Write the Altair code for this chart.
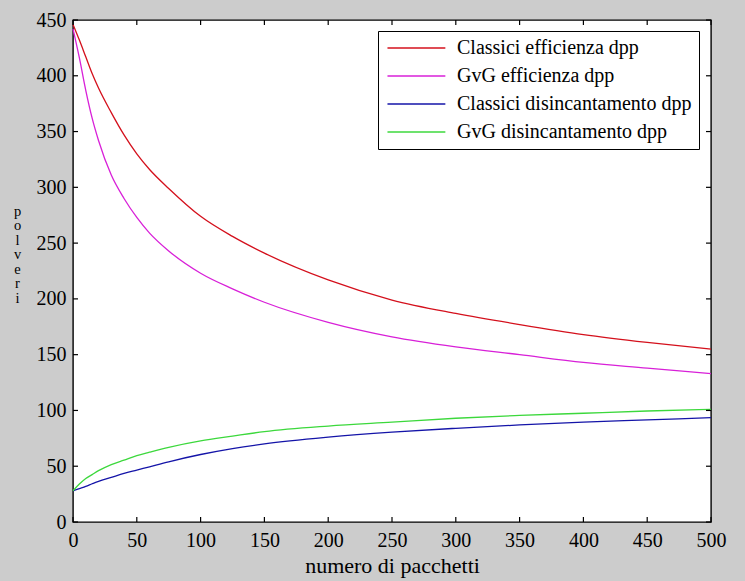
import altair as alt
import pandas as pd

# x values (numero di pacchetti)
x_vals = [0, 5, 10, 15, 20, 30, 40, 50, 60, 75, 100, 125, 150, 200, 250, 300, 350, 400, 450, 500]
classici_eff = [446, 432, 417, 402, 389, 367, 347, 330, 316, 299, 274, 256, 241, 217, 199, 187, 177, 168, 161, 155]
gvg_eff = [442, 416, 387, 362, 342, 311, 290, 273, 259, 243, 223, 209, 197, 179, 166, 157, 150, 143, 138, 133]
classici_dis = [28, 30, 32, 34.3, 36.5, 40, 43.5, 46.5, 49.5, 54, 60.5, 65.8, 70, 76, 80.5, 84, 87, 89.5, 91.5, 93.5]
gvg_dis = [28, 34, 39, 42.5, 46, 51.5, 55.5, 59.5, 62.6, 67, 72.8, 77, 81, 86, 89.5, 93, 95.5, 97.5, 99.5, 101]

series_names = ["Classici efficienza dpp", "GvG efficienza dpp",
                "Classici disincantamento dpp", "GvG disincantamento dpp"]
series_values = [classici_eff, gvg_eff, classici_dis, gvg_dis]
series_colors = ["#d4101c", "#d820d8", "#1414a8", "#3cd83c"]

x_ticks = list(range(0, 501, 50))
y_ticks = list(range(0, 451, 50))

rows = []
for name, vals in zip(series_names, series_values):
    for xv, yv in zip(x_vals, vals):
        rows.append({"x": xv, "y": yv, "serie": name})
df = pd.DataFrame(rows)
xt_df = pd.DataFrame({"x": x_ticks})
yt_df = pd.DataFrame({"y": y_ticks})

W, H = 638, 502
TICK = 5

tick_font = "Liberation Sans Narrow"
serif = "Liberation Serif"

xscale = alt.Scale(domain=[0, 500], nice=False, zero=False)
yscale = alt.Scale(domain=[0, 450], nice=False, zero=False)

x_axis = alt.Axis(orient="bottom", values=x_ticks, ticks=False,
                  domain=False, grid=False, labelPadding=8, labelFlush=False,
                  labelFont=tick_font, labelFontSize=20, labelColor="black",
                  title="numero di pacchetti",
                  titleFont=serif, titleFontSize=22, titleFontWeight="normal",
                  titleColor="black", titlePadding=5)
y_axis = alt.Axis(orient="left", values=y_ticks, ticks=False,
                  domain=False, grid=False, labelPadding=7, labelFlush=False,
                  labelFont=tick_font, labelFontSize=20, labelColor="black",
                  title=["p", "o", "l", "v", "e", "r", "i"],
                  titleAngle=0, titleFont=serif, titleFontSize=14.5,
                  titleFontWeight="normal", titleColor="black",
                  titleLineHeight=14.5, titleAlign="center",
                  titleBaseline="top", titleX=-56, titleY=184)

lines = alt.Chart(df).mark_line(strokeWidth=1.3, interpolate="monotone").encode(
    x=alt.X("x:Q", scale=xscale, axis=x_axis),
    y=alt.Y("y:Q", scale=yscale, axis=y_axis),
    color=alt.Color("serie:N",
                    scale=alt.Scale(domain=series_names, range=series_colors),
                    sort=series_names,
                    legend=alt.Legend(orient="none", legendX=305, legendY=11,
                                      title=None, symbolType="M-1.3,0H8.7",
                                      symbolSize=134, symbolStrokeWidth=1.3,
                                      labelFont=serif, labelFontSize=20,
                                      labelColor="black", labelLimit=400,
                                      labelOffset=52, rowPadding=8,
                                      strokeColor="black", fillColor="white",
                                      padding=7, offset=0)),
    detail="serie:N",
)

# inward tick marks on all four sides (MATLAB style box)
xt_bottom = alt.Chart(xt_df).mark_rule(color="black", strokeWidth=1.2).encode(
    x=alt.X("x:Q", scale=xscale, axis=x_axis),
    y=alt.value(H - TICK), y2=alt.value(H))
xt_top = alt.Chart(xt_df).mark_rule(color="black", strokeWidth=1.2).encode(
    x=alt.X("x:Q", scale=xscale, axis=x_axis),
    y=alt.value(0), y2=alt.value(TICK))
yt_left = alt.Chart(yt_df).mark_rule(color="black", strokeWidth=1.2).encode(
    y=alt.Y("y:Q", scale=yscale, axis=y_axis),
    x=alt.value(0), x2=alt.value(TICK))
yt_right = alt.Chart(yt_df).mark_rule(color="black", strokeWidth=1.2).encode(
    y=alt.Y("y:Q", scale=yscale, axis=y_axis),
    x=alt.value(W - TICK), x2=alt.value(W))

chart = alt.layer(lines, xt_bottom, xt_top, yt_left, yt_right).properties(
    width=W, height=H,
    background="#cccccc",
    padding={"left": 73, "top": 20, "right": 34, "bottom": 59},
    autosize=alt.AutoSizeParams(type="none"),
).configure_view(
    fill="white", stroke="black", strokeWidth=1.4
)

chart.save("out.html", embed_options={"renderer": "svg", "actions": False})
